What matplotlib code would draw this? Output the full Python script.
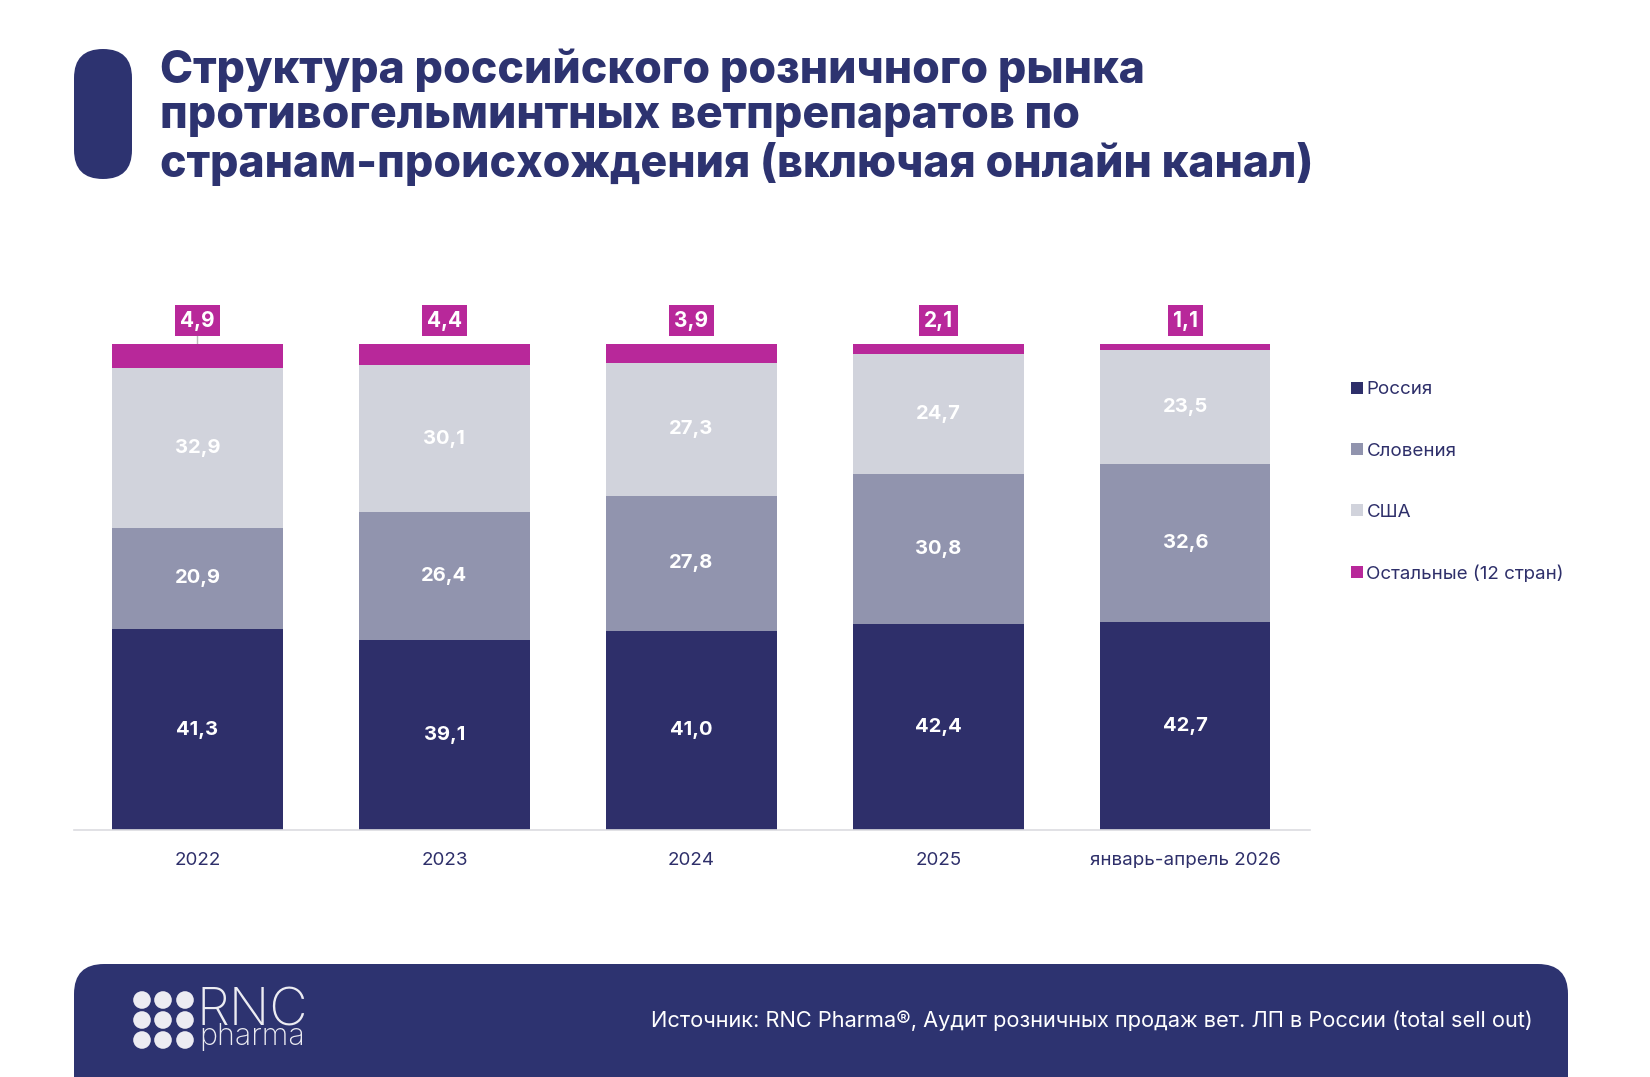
import matplotlib
matplotlib.use("Agg")
import matplotlib.pyplot as plt
from matplotlib.patches import FancyBboxPatch, Circle
import numpy as np

plt.rcParams['font.family'] = ['Inter', 'DejaVu Sans']

# данные
periodos = ["2022", "2023", "2024", "2025", "январь-апрель 2026"]
rossiya = [41.3, 39.1, 41.0, 42.4, 42.7]
sloveniya = [20.9, 26.4, 27.8, 30.8, 32.6]
ssha = [32.9, 30.1, 27.3, 24.7, 23.5]
ostalnye = [4.9, 4.4, 3.9, 2.1, 1.1]
series_nombres = ["Россия", "Словения", "США", "Остальные (12 стран)"]

titulo = ("Структура российского розничного рынка\n"
          "противогельминтных ветпрепаратов по\n"
          "странам-происхождения (включая онлайн канал)")
fuente = "Источник: RNC Pharma®, Аудит розничных продаж вет. ЛП в России (total sell out)"

NAVY = "#2E2F6A"
NAVY_FOOT = "#2D3370"
GRIS = "#9194AE"
CLARO = "#D1D3DC"
MAGENTA = "#B8289A"
colores = [NAVY, GRIS, CLARO, MAGENTA]

W, H = 1650, 1077
fig = plt.figure(figsize=(W / 100, H / 100), dpi=100)

# fondo para los elementos decorativos (coordenadas en pixeles)
bg = fig.add_axes([0, 0, 1, 1])
bg.set_xlim(0, W)
bg.set_ylim(H, 0)
bg.axis("off")

bg.add_patch(FancyBboxPatch((74, 49), 58, 130, boxstyle="round,pad=0,rounding_size=29",
                            fc=NAVY_FOOT, ec="none"))
bg.text(160, 48, titulo, fontsize=32.1, fontweight="heavy", color=NAVY_FOOT,
        va="top", ha="left", linespacing=1.12)

# pie de pagina
bg.add_patch(FancyBboxPatch((74, 964), 1494, 200, boxstyle="round,pad=0,rounding_size=30",
                            fc=NAVY_FOOT, ec="none"))
bg.text(1533, 1021, fuente, fontsize=15.7, color="white", ha="right", va="center")
for cx in [142, 163, 185]:
    for cy in [1000, 1020, 1040]:
        bg.add_patch(Circle((cx, cy), 8.8, fc="#ECECF2", ec="none"))
bg.text(197, 1025, "RNC", fontsize=38, fontweight="light", color="#ECECF2",
        ha="left", va="baseline")
bg.text(199, 1045, "pharma", fontsize=22, fontweight="light", color="#ECECF2",
        ha="left", va="baseline")

# grafico
ax = fig.add_axes([74 / W, (H - 830) / H, (1310 - 74) / W, 486 / H])
x = np.arange(len(periodos))
ancho = 0.69
base = np.zeros(len(periodos))
for vals, col, nom in zip([rossiya, sloveniya, ssha, ostalnye], colores, series_nombres):
    vals = np.array(vals)
    ax.bar(x, vals, ancho, bottom=base, color=col, label=nom, zorder=2)
    if nom != "Остальные (12 стран)":
        for xi, b, v in zip(x, base, vals):
            ax.text(xi, b + v / 2, f"{v:.1f}".replace(".", ","), ha="center", va="center",
                    color="white", fontsize=14.5, fontweight="bold", zorder=3)
    else:
        for xi, b, v in zip(x, base, vals):
            ax.text(xi, 104.8, f"{v:.1f}".replace(".", ","), ha="center", va="center",
                    color="white", fontsize=15, fontweight="bold", clip_on=False, zorder=4,
                    bbox=dict(boxstyle="square,pad=0.25", fc=MAGENTA, ec="none"))
    base = base + vals

# linea guia de la primera etiqueta
ax.plot([0, 0], [101.8, 100], color="#BBBBBB", lw=1, clip_on=False, zorder=1)

ax.set_xlim(-0.5, 4.505)
ax.set_ylim(0, 100)
ax.set_yticks([])
ax.set_xticks(x)
ax.set_xticklabels(periodos, fontsize=13.5, color=NAVY)
ax.tick_params(axis="x", length=0, pad=16)
for s in ["top", "right", "left"]:
    ax.spines[s].set_visible(False)
ax.spines["bottom"].set_color("#DCDCE0")
ax.spines["bottom"].set_linewidth(1.2)

# leyenda
handles, labels = ax.get_legend_handles_labels()
fig.legend(handles, labels, loc="upper left", bbox_to_anchor=(1342 / W, 1 - 372 / H),
           frameon=False, fontsize=13.5, labelcolor=NAVY, handlelength=0.6, handleheight=0.6,
           handletextpad=0.2, labelspacing=2.36, borderpad=0)

fig.savefig("out.png", dpi=100)
